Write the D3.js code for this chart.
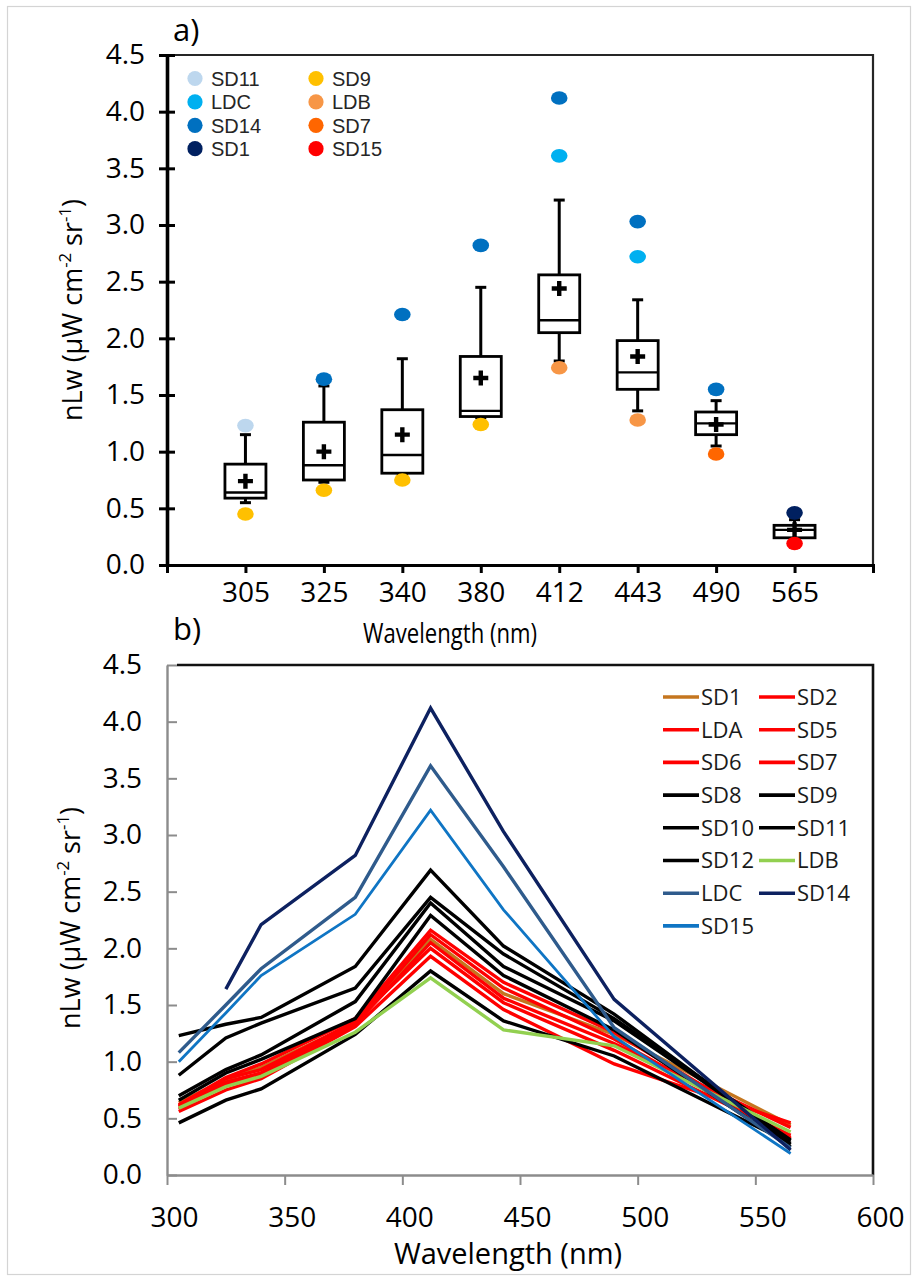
<!DOCTYPE html>
<html><head><meta charset="utf-8">
<script src="https://cdn.jsdelivr.net/npm/d3@7"></script>
<style>
body{margin:0;background:#fff}
svg{display:block}
</style>
</head><body>
<svg id="c" width="917" height="1280" font-family="Open Sans, sans-serif"></svg>
<script>
// ---------- Panel a: box statistics ----------
const categories = ["305","325","340","380","412","443","490","565"];
const boxQ1       = [0.59, 0.75, 0.81, 1.31, 2.05, 1.55, 1.15, 0.24];
const boxMedian   = [0.64, 0.88, 0.97, 1.36, 2.16, 1.70, 1.25, 0.31];
const boxQ3       = [0.89, 1.26, 1.37, 1.84, 2.56, 1.98, 1.35, 0.35];
const whiskerLow  = [0.55, 0.73, 0.80, 1.30, 1.80, 1.36, 1.05, 0.22];
const whiskerHigh = [1.15, 1.58, 1.82, 2.45, 3.22, 2.34, 1.45, 0.40];
const boxMean     = [0.74, 1.00, 1.15, 1.65, 2.44, 1.84, 1.24, 0.31];
const pointCat  = ["305","305","325","325","340","340","380","380","412","412","412","443","443","443","490","490","565","565"];
const pointVal  = [1.23, 0.45, 1.64, 0.66, 2.21, 0.75, 2.82, 1.24, 4.12, 3.61, 1.74, 3.03, 2.72, 1.28, 1.55, 0.98, 0.46, 0.19];
const pointId   = ["SD11","SD9","SD14","SD9","SD14","SD9","SD14","SD9","SD14","LDC","LDB","SD14","LDC","LDB","SD14","SD7","SD1","SD15"];
const legendANames  = ["SD11","LDC","SD14","SD1","SD9","LDB","SD7","SD15"];
const legendAColors = ["#bdd7ee","#00b0f0","#0070c0","#002060","#ffc000","#f79646","#ff6600","#ff0000"];
const yTicks = [0,0.5,1,1.5,2,2.5,3,3.5,4,4.5];

// ---------- Panel b: spectra ----------
const wavelengths = [305, 325, 340, 380, 412, 443, 490, 565];
const SD1  = [0.64, 0.84, 0.95, 1.34, 2.08, 1.60, 1.24, 0.44];
const SD2  = [0.61, 0.82, 0.90, 1.36, 2.00, 1.52, 1.10, 0.35];
const LDA  = [0.58, 0.80, 0.88, 1.33, 2.05, 1.56, 1.16, 0.42];
const SD5  = [0.60, 0.85, 0.93, 1.35, 2.12, 1.65, 1.20, 0.33];
const SD6  = [0.62, 0.86, 0.98, 1.38, 2.16, 1.70, 1.26, 0.32];
const SD7  = [0.56, 0.75, 0.85, 1.31, 1.93, 1.46, 0.98, 0.46];
const SD8  = [0.70, 0.93, 1.06, 1.53, 2.40, 1.84, 1.36, 0.30];
const SD9  = [0.46, 0.66, 0.76, 1.24, 1.80, 1.36, 1.05, 0.28];
const SD10 = [0.88, 1.21, 1.34, 1.65, 2.45, 1.95, 1.38, 0.31];
const SD11 = [1.23, 1.33, 1.39, 1.84, 2.69, 2.02, 1.42, 0.27];
const SD12 = [0.66, 0.90, 1.02, 1.38, 2.29, 1.76, 1.28, 0.25];
const LDB  = [0.59, 0.78, 0.87, 1.26, 1.74, 1.28, 1.14, 0.38];
const LDC  = [1.08, 1.50, 1.82, 2.45, 3.61, 2.72, 1.30, 0.24];
const SD14 = [null, 1.64, 2.21, 2.82, 4.12, 3.03, 1.55, 0.22];
const SD15 = [1.00, 1.43, 1.76, 2.30, 3.22, 2.34, 1.22, 0.19];
const seriesNames  = ["SD1","SD2","LDA","SD5","SD6","SD7","SD8","SD9","SD10","SD11","SD12","LDB","LDC","SD14","SD15"];
const seriesValues = [SD1,SD2,LDA,SD5,SD6,SD7,SD8,SD9,SD10,SD11,SD12,LDB,LDC,SD14,SD15];
const seriesColors = ["#c5761f","#ff0000","#ff0000","#ff0000","#ff0000","#ff0000","#000000","#000000","#000000","#000000","#000000","#92d050","#2f5b8c","#0d2160","#0f75c4"];
const xTicksB = [300,350,400,450,500,550,600];

const svg = d3.select("#c");
const colorOf = d3.scaleOrdinal().domain(legendANames).range(legendAColors);

// outer light border
svg.append("rect").attr("x",7.5).attr("y",6.5).attr("width",903).attr("height",1268)
  .attr("fill","none").attr("stroke","#d4d4d4").attr("stroke-width",1.2);

function yLabel(g, cx, cy){
  const t = g.append("text").attr("transform",`translate(${cx},${cy}) rotate(-90)`)
    .attr("text-anchor","middle").attr("font-size",27).attr("fill","#000");
  t.append("tspan").text("nLw (μW cm");
  t.append("tspan").attr("baseline-shift","super").attr("font-size","62%").text("-2");
  t.append("tspan").text(" sr");
  t.append("tspan").attr("baseline-shift","super").attr("font-size","62%").text("-1");
  t.append("tspan").text(")");
}

// ================= PANEL A =================
const gA = svg.append("g");
const xA = d3.scalePoint().domain(categories).range([167,873]).padding(1);
const yA = d3.scaleLinear().domain([0,4.5]).range([565,55]);

gA.append("path").attr("d",`M${xA.range()[0]},${yA(4.5)}H${xA.range()[1]}V${yA(0)}`)
  .attr("fill","none").attr("stroke","#262626").attr("stroke-width",2.2);

const axYA = gA.append("g").attr("transform",`translate(167,0)`)
  .call(d3.axisLeft(yA).tickValues(yTicks).tickFormat(d3.format(".1f")).tickSize(8).tickSizeOuter(0).tickPadding(14));
axYA.select(".domain").attr("stroke","#000").attr("stroke-width",3.6);
axYA.selectAll(".tick line").attr("x1",8).attr("x2",-8).attr("stroke","#000").attr("stroke-width",3);
axYA.selectAll(".tick text").attr("font-size",28).attr("font-family","Open Sans").attr("fill","#000");

const axXA = gA.append("g").attr("transform",`translate(0,565)`)
  .call(d3.axisBottom(xA).tickSize(8).tickSizeOuter(8).tickPadding(9));
axXA.select(".domain").attr("stroke","#000").attr("stroke-width",3);
axXA.selectAll(".tick line").attr("stroke","#000").attr("stroke-width",3);
axXA.selectAll(".tick text").attr("font-size",28).attr("font-family","Open Sans").attr("fill","#000");

const boxW = 41;
categories.forEach((c,i)=>{
  const cx = xA(c);
  const gb = gA.append("g");
  gb.append("line").attr("x1",cx).attr("x2",cx).attr("y1",yA(boxQ3[i])).attr("y2",yA(whiskerHigh[i]))
    .attr("stroke","#000").attr("stroke-width",3);
  gb.append("line").attr("x1",cx).attr("x2",cx).attr("y1",yA(boxQ1[i])).attr("y2",yA(whiskerLow[i]))
    .attr("stroke","#000").attr("stroke-width",3);
  gb.append("line").attr("x1",cx-5.5).attr("x2",cx+5.5).attr("y1",yA(whiskerHigh[i])).attr("y2",yA(whiskerHigh[i]))
    .attr("stroke","#000").attr("stroke-width",3);
  gb.append("line").attr("x1",cx-5.5).attr("x2",cx+5.5).attr("y1",yA(whiskerLow[i])).attr("y2",yA(whiskerLow[i]))
    .attr("stroke","#000").attr("stroke-width",3);
  gb.append("rect").attr("x",cx-boxW/2).attr("y",yA(boxQ3[i])).attr("width",boxW)
    .attr("height",yA(boxQ1[i])-yA(boxQ3[i])).attr("fill","#fff").attr("stroke","#000").attr("stroke-width",2.8);
  gb.append("line").attr("x1",cx-boxW/2).attr("x2",cx+boxW/2).attr("y1",yA(boxMedian[i])).attr("y2",yA(boxMedian[i]))
    .attr("stroke","#000").attr("stroke-width",2.4);
  const my = yA(boxMean[i]);
  gb.append("path").attr("d",`M${cx-7.5},${my}H${cx+7.5}M${cx},${my-7.5}V${my+7.5}`)
    .attr("stroke","#000").attr("stroke-width",4.4).attr("fill","none");
});

pointCat.forEach((c,i)=>{
  gA.append("ellipse").attr("cx",xA(c)).attr("cy",yA(pointVal[i])).attr("rx",8.3).attr("ry",6.8)
    .attr("fill",colorOf(pointId[i]));
});

legendANames.forEach((n,i)=>{
  const col = Math.floor(i/4), row = i%4;
  const dx = col===0 ? 195 : 316;
  const ly = 78.5 + row*23.4;
  gA.append("circle").attr("cx",dx).attr("cy",ly).attr("r",7.6).attr("fill",legendAColors[i]);
  gA.append("text").attr("x",dx+16).attr("y",ly).attr("dy","0.36em")
    .style("font-family","'Liberation Sans', Arial, sans-serif").attr("font-size",20).attr("fill","#262626").text(n);
});

gA.append("text").attr("x",173).attr("y",41).attr("font-size",31).attr("fill","#000").text("a)");
gA.append("text").attr("transform","translate(450,643) scale(0.82,1)").attr("text-anchor","middle")
  .attr("font-size",27).attr("fill","#000").text("Wavelength (nm)");
yLabel(gA, 82, 310);

// ================= PANEL B =================
const gB = svg.append("g");
const xB = d3.scaleLinear().domain([300,600]).range([167,873]);
const yB = d3.scaleLinear().domain([0,4.5]).range([1175,665]);

gB.append("path").attr("d",`M${xB(300)+10},${yB(4.5)}H${xB(600)}V${yB(0)}`)
  .attr("fill","none").attr("stroke","#111").attr("stroke-width",2.6);

const axYB = gB.append("g").attr("transform",`translate(167,0)`)
  .call(d3.axisLeft(yB).tickValues(yTicks).tickFormat(d3.format(".1f")).tickSize(-10).tickSizeOuter(0).tickPadding(25));
axYB.select(".domain").attr("stroke","#8c8c8c").attr("stroke-width",2.4);
axYB.selectAll(".tick line").attr("stroke","#8c8c8c").attr("stroke-width",2);
axYB.selectAll(".tick text").attr("font-size",28).attr("font-family","Open Sans").attr("fill","#000");

const axXB = gB.append("g").attr("transform",`translate(0,1175)`)
  .call(d3.axisBottom(xB).tickValues(xTicksB).tickFormat(d3.format("d")).tickSize(10).tickSizeOuter(0).tickPadding(22));
axXB.select(".domain").attr("stroke","#8c8c8c").attr("stroke-width",2.4);
axXB.selectAll(".tick line").attr("stroke","#8c8c8c").attr("stroke-width",2);
axXB.selectAll(".tick text").attr("font-size",28).attr("font-family","Open Sans").attr("fill","#000").attr("dx",7);

const line = d3.line().defined(d=>d.v!=null).x(d=>xB(d.w)).y(d=>yB(d.v));
seriesValues.forEach((vals,i)=>{
  const pts = wavelengths.map((w,j)=>({w, v: vals[j]}));
  gB.append("path").datum(pts).attr("d",line).attr("fill","none")
    .attr("stroke",seriesColors[i]).attr("stroke-width", seriesNames[i]==="SD15"?2.8:3.4)
    .attr("stroke-linejoin","miter");
});

seriesNames.forEach((n,i)=>{
  const col = i%2, row = Math.floor(i/2);
  const x0 = col===0 ? 663 : 759;
  const ly = 697 + row*32.7;
  gB.append("line").attr("x1",x0).attr("x2",x0+36).attr("y1",ly).attr("y2",ly)
    .attr("stroke",seriesColors[i]).attr("stroke-width",3.6);
  gB.append("text").attr("x",x0+38).attr("y",ly).attr("dy","0.36em").attr("font-size",22)
    .attr("fill","#1a1a1a").text(n);
});

gB.append("text").attr("x",173).attr("y",640).attr("font-size",31).attr("fill","#000").text("b)");
gB.append("text").attr("x",508).attr("y",1264).attr("text-anchor","middle").attr("font-size",29).attr("fill","#000").text("Wavelength (nm)");
yLabel(gB, 80, 918);
</script>
</body></html>
